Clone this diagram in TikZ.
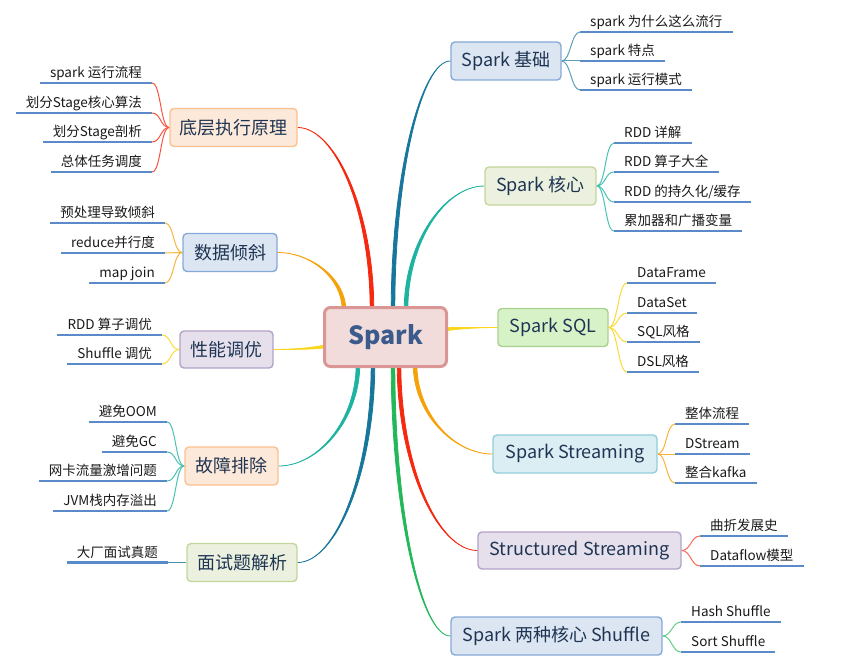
\documentclass[tikz,border=0pt]{standalone}
\usepackage{fontspec}
\setmainfont{Noto Sans CJK SC}
\usetikzlibrary{calc}
\pgfdeclarelayer{bg}
\pgfsetlayers{bg,main}
\definecolor{cred}{HTML}{F5290F}
\definecolor{cblue}{HTML}{17769B}
\definecolor{cteal}{HTML}{1DB3A0}
\definecolor{corange}{HTML}{F5A10A}
\definecolor{cyellow}{HTML}{F9D71C}
\definecolor{cgreen}{HTML}{22B85A}
\definecolor{uline}{HTML}{5A8AC8}
\definecolor{boxtext}{HTML}{1F3553}
\definecolor{leaftext}{HTML}{1A1A1A}
\definecolor{ctrtext}{HTML}{3B5B8C}
\definecolor{ctrF}{HTML}{F2DCDB}
\definecolor{ctrD}{HTML}{D99694}
\definecolor{peachF}{HTML}{FDE9D9}
\definecolor{peachD}{HTML}{FAC090}
\definecolor{blueF}{HTML}{DCE6F2}
\definecolor{blueD}{HTML}{85A9D8}
\definecolor{lavF}{HTML}{E6E0EC}
\definecolor{lavD}{HTML}{B3A2C7}
\definecolor{olivF}{HTML}{EBF1DE}
\definecolor{olivD}{HTML}{C3D69B}
\definecolor{grnF}{HTML}{D8F2C8}
\definecolor{grnD}{HTML}{A9D18E}
\definecolor{cyanF}{HTML}{DAEEF3}
\definecolor{cyanD}{HTML}{92CDDC}
\newcommand{\mmbranch}[4]{%
  \filldraw[#3, line width=0.8pt, line join=round]
  ($(#1)+#4$) .. controls ($(#1)!0.55!(#1|-#2)+#4$) and ($(#2)!0.5!(#1|-#2)$) .. (#2)
  .. controls ($(#2)!0.5!(#1|-#2)$) and ($(#1)!0.55!(#1|-#2)-#4$) .. ($(#1)-#4$) -- cycle;}
\tikzset{
  topic/.style={draw, rounded corners=4pt, line width=1.4pt, minimum height=38pt, inner sep=0pt,
    font=\fontsize{18}{20}\selectfont, text=boxtext},
  peachbox/.style={topic, fill=peachF, draw=peachD},
  bluebox/.style={topic, fill=blueF, draw=blueD},
  lavbox/.style={topic, fill=lavF, draw=lavD},
  olivbox/.style={topic, fill=olivF, draw=olivD},
  grnbox/.style={topic, fill=grnF, draw=grnD},
  cyanbox/.style={topic, fill=cyanF, draw=cyanD},
  leafnode/.style={inner xsep=10pt, inner ysep=2pt, text height=11pt, text depth=3pt,
    font=\fontsize{13.5}{15}\selectfont, text=leaftext},
  lleaf/.style={leafnode, anchor=south east},
  rleaf/.style={leafnode, anchor=south west},
  ul/.style={draw=uline, line width=2.6pt},
  sub/.style={line width=1pt},
}
\begin{document}
\begin{tikzpicture}[x=1pt,y=-1pt]
\useasboundingbox (0,0) rectangle (853,668);
% centre
\node[draw=ctrD, fill=ctrF, line width=3pt, rounded corners=6pt, minimum width=122pt, minimum height=59pt,
  font=\fontsize{25}{28}\selectfont\bfseries, text=ctrtext] (sp) at (385.5,337) {Spark};
% main topics
\node[peachbox, minimum width=127pt] (dl) at (233.5,127.5) {底层执行原理};
\node[bluebox, minimum width=94pt] (sj) at (230,252.5) {数据倾斜};
\node[lavbox, minimum width=93pt, minimum height=37pt] (xn) at (226.5,349.5) {性能调优};
\node[peachbox, minimum width=93pt] (gz) at (231.5,466) {故障排除};
\node[olivbox, minimum width=110pt] (ms) at (242,562.5) {面试题解析};
\node[bluebox, minimum width=110pt] (jc) at (506,61) {Spark 基础};
\node[olivbox, minimum width=111pt] (hx) at (540.5,186) {Spark 核心};
\node[grnbox, minimum width=110pt] (sq) at (553,327.5) {Spark SQL};
\node[cyanbox, minimum width=164pt] (ss) at (575,454) {Spark Streaming};
\node[lavbox, minimum width=203pt, minimum height=37pt] (st) at (579.5,550.5) {Structured Streaming};
\node[bluebox, minimum width=211pt] (sh) at (556.5,636) {Spark 两种核心 Shuffle};
% leaves left
\node[lleaf] (a1) at (152,83) {spark 运行流程};
\node[lleaf] (a2) at (152,113) {划分Stage核心算法};
\node[lleaf] (a3) at (152,142) {划分Stage剖析};
\node[lleaf] (a4) at (152,172) {总体任务调度};
\node[lleaf] (b1) at (165,223) {预处理导致倾斜};
\node[lleaf] (b2) at (165,253) {reduce并行度};
\node[lleaf] (b3) at (165,283) {map join};
\node[lleaf] (c1) at (162,335) {RDD 算子调优};
\node[lleaf] (c2) at (162,364) {Shuffle 调优};
\node[lleaf] (d1) at (167,422) {避免OOM};
\node[lleaf] (d2) at (167,452) {避免GC};
\node[lleaf] (d3) at (167,481) {网卡流量激增问题};
\node[lleaf] (d4) at (167,511) {JVM栈内存溢出};
\node[lleaf] (e1) at (168,562.5) {大厂面试真题};
% leaves right
\node[rleaf] (f1) at (580,32) {spark 为什么这么流行};
\node[rleaf] (f2) at (580,61) {spark 特点};
\node[rleaf] (f3) at (580,90) {spark 运行模式};
\node[rleaf] (g1) at (614,143) {RDD 详解};
\node[rleaf] (g2) at (614,172) {RDD 算子大全};
\node[rleaf] (g3) at (614,202) {RDD 的持久化/缓存};
\node[rleaf] (g4) at (614,231) {累加器和广播变量};
\node[rleaf] (h1) at (627,283) {DataFrame};
\node[rleaf] (h2) at (627,313) {DataSet};
\node[rleaf] (h3) at (627,342) {SQL风格};
\node[rleaf] (h4) at (627,372) {DSL风格};
\node[rleaf] (i1) at (675,424) {整体流程};
\node[rleaf] (i2) at (675,454) {DStream};
\node[rleaf] (i3) at (675,483) {整合kafka};
\node[rleaf] (j1) at (700,536) {曲折发展史};
\node[rleaf] (j2) at (700,566) {Dataflow模型};
\node[rleaf] (k1) at (681,622) {Hash Shuffle};
\node[rleaf] (k2) at (681,652) {Sort Shuffle};
% underlines
\foreach \n in {a1,a2,a3,a4,b1,b2,b3,c1,c2,d1,d2,d3,d4,e1,f1,f2,f3,g1,g2,g3,g4,h1,h2,h3,h4,i1,i2,i3,j1,j2,k1,k2}
  \draw[ul] (\n.south west) -- (\n.south east);
% start points on centre
\coordinate (tR) at ($(sp.north west)+(49,4)$);
\coordinate (tB) at ($(sp.north west)+(70,4)$);
\coordinate (tT) at ($(sp.north west)+(83,4)$);
\coordinate (tO) at ($(sp.north west)+(21,4)$);
\coordinate (bT) at ($(sp.south west)+(35,-4)$);
\coordinate (bB) at ($(sp.south west)+(50,-4)$);
\coordinate (bG) at ($(sp.south west)+(70,-4)$);
\coordinate (bR) at ($(sp.south west)+(76,-4)$);
\coordinate (bO) at ($(sp.south west)+(92,-4)$);
\coordinate (lY) at ($(sp.west)+(4,8)$);
\coordinate (rY) at ($(sp.east)+(-4,-7)$);
\begin{pgfonlayer}{bg}
\mmbranch{tR}{dl.east}{cred}{(1.8,0)}
\mmbranch{tO}{sj.east}{corange}{(1.8,0)}
\mmbranch{lY}{xn.east}{cyellow}{(0,1.6)}
\mmbranch{bT}{gz.east}{cteal}{(1.8,0)}
\mmbranch{bB}{ms.east}{cblue}{(1.8,0)}
\mmbranch{tB}{jc.west}{cblue}{(1.8,0)}
\mmbranch{tT}{hx.west}{cteal}{(1.8,0)}
\mmbranch{rY}{sq.west}{cyellow}{(0,1.6)}
\mmbranch{bO}{ss.west}{corange}{(1.8,0)}
\mmbranch{bR}{st.west}{cred}{(1.8,0)}
\mmbranch{bG}{sh.west}{cgreen}{(1.8,0)}
% sub connectors
\foreach \n in {a1,a2,a3,a4} \draw[sub, cred!80] (dl.west) .. controls +(-9,0) and +(9,0) .. (\n.south east);
\foreach \n in {b1,b2,b3} \draw[sub, corange!80] (sj.west) .. controls +(-9,0) and +(9,0) .. (\n.south east);
\foreach \n in {c1,c2} \draw[sub, cyellow!90] (xn.west) .. controls +(-9,0) and +(9,0) .. (\n.south east);
\foreach \n in {d1,d2,d3,d4} \draw[sub, cteal!80] (gz.west) .. controls +(-9,0) and +(9,0) .. (\n.south east);
\foreach \n in {e1} \draw[sub, cblue!80] (ms.west) .. controls +(-9,0) and +(9,0) .. (\n.south east);
\foreach \n in {f1,f2,f3} \draw[sub, cblue!70] (jc.east) .. controls +(9,0) and +(-9,0) .. (\n.south west);
\foreach \n in {g1,g2,g3,g4} \draw[sub, cteal!80] (hx.east) .. controls +(9,0) and +(-9,0) .. (\n.south west);
\foreach \n in {h1,h2,h3,h4} \draw[sub, cyellow!90] (sq.east) .. controls +(9,0) and +(-9,0) .. (\n.south west);
\foreach \n in {i1,i2,i3} \draw[sub, corange!80] (ss.east) .. controls +(9,0) and +(-9,0) .. (\n.south west);
\foreach \n in {j1,j2} \draw[sub, cred!70] (st.east) .. controls +(9,0) and +(-9,0) .. (\n.south west);
\foreach \n in {k1,k2} \draw[sub, cgreen!70] (sh.east) .. controls +(9,0) and +(-9,0) .. (\n.south west);
\end{pgfonlayer}
\end{tikzpicture}
\end{document}
